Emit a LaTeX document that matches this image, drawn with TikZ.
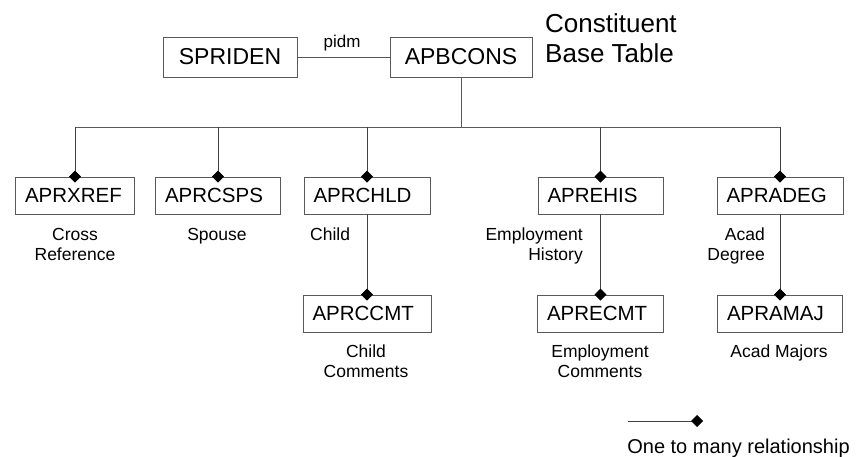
\documentclass[tikz,border=0pt]{standalone}
\usepackage{fontspec}
\setmainfont{Liberation Sans}
\usetikzlibrary{arrows.meta}
\newcommand\fsz[2]{\fontsize{#1}{#2}\selectfont}
\tikzset{
  lncol/.style={draw=black!65, line width=0.9pt},
  tbox/.style={lncol, rectangle, minimum height=40pt, inner sep=0pt, font=\fsz{23}{27}},
  rbox/.style={lncol, rectangle, minimum height=37pt, inner xsep=9.5pt, inner ysep=0pt,
               text width=#1, align=left, font=\fsz{20.5}{24}},
  lbl/.style={inner sep=0pt, font=\fsz{17.5}{20}},
  conn/.style={lncol},
  onemany/.style={draw=black!75, line width=0.9pt, -{Diamond[length=12pt,width=12pt,color=black]}, shorten >=-6pt},
}
\begin{document}
\begin{tikzpicture}[x=1pt, y=-1pt]
\useasboundingbox (0,0) rectangle (856,457);
% top
\node[tbox, minimum width=134pt] (spriden) at (230,57) {SPRIDEN};
\node[tbox, minimum width=142pt] (apbcons) at (461,57) {APBCONS};
\node[inner sep=0pt, font=\fsz{17}{20}, anchor=base] (pidm) at (342,47.5) {pidm};
\node[inner sep=0pt, font=\fsz{26}{30}, anchor=north west, align=left] (title) at (545,13) {Constituent\\Base Table};
\draw[conn] (spriden.east) -- (apbcons.west);
% row 2
\node[rbox=100pt] (xref) at (75,195.5) {APRXREF};
\node[rbox=106pt] (csps) at (218,195.5) {APRCSPS};
\node[rbox=107pt] (chld) at (367,195.5) {APRCHLD};
\node[rbox=106pt] (ehis) at (600.5,195.5) {APREHIS};
\node[rbox=107pt] (adeg) at (780,195.5) {APRADEG};
% row 3
\node[rbox=109pt] (ccmt) at (367,313.5) {APRCCMT};
\node[rbox=107pt] (ecmt) at (600.5,313.5) {APRECMT};
\node[rbox=106pt] (amaj) at (780,313.5) {APRAMAJ};
% bus
\coordinate (bus) at (461,127);
\draw[conn] (apbcons.south) -- (bus);
\draw[conn] (bus -| xref.north) -- (bus -| adeg.north);
\foreach \n in {xref,csps,chld,ehis,adeg}
  \draw[onemany] (bus -| \n.north) -- (\n.north);
\draw[onemany] (chld.south) -- (ccmt.north);
\draw[onemany] (ehis.south) -- (ecmt.north);
\draw[onemany] (adeg.south) -- (amaj.north);
% labels
\node[lbl, anchor=north, align=center] (l1) at (75,228) {Cross\\Reference};
\node[lbl, anchor=north, align=center] (l2) at (217,228) {Spouse};
\node[lbl, anchor=north west, align=left] (l3) at (310,228) {Child};
\node[lbl, anchor=north east, align=right] (l4) at (583,228) {Employment\\History};
\node[lbl, anchor=north east, align=right] (l5) at (765,228) {Acad\\Degree};
\node[lbl, anchor=north, align=center] (l6) at (366,345) {Child\\Comments};
\node[lbl, anchor=north, align=center] (l7) at (600,345) {Employment\\Comments};
\node[lbl, anchor=north, align=center] (l8) at (779,345) {Acad Majors};
% legend
\coordinate (legL) at (628,421);
\coordinate (legR) at (697,421);
\draw[onemany] (legL) -- (legR);
\node[inner sep=0pt, font=\fsz{20}{24}, anchor=north] (legtxt) at (738.5,439) {One to many relationship};
\end{tikzpicture}
\end{document}
